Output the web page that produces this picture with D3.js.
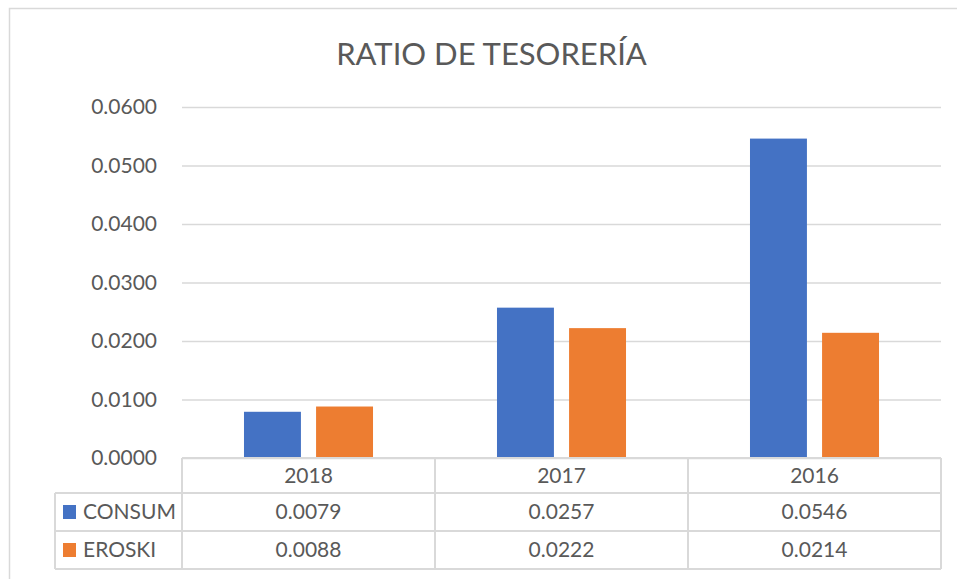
<!DOCTYPE html>
<html>
<head>
<meta charset="utf-8">
<script src="https://cdnjs.cloudflare.com/ajax/libs/d3/7.8.5/d3.min.js"></script>
<style>
  body { margin: 0; background: #fff; }
  text { font-family: Lato, "Open Sans", sans-serif; fill: #595959; }
</style>
</head>
<body>
<svg id="chart"></svg>
<script>
// data
var years = ["2018", "2017", "2016"];
var seriesNames = ["CONSUM", "EROSKI"];
var consum = [0.0079, 0.0257, 0.0546];
var eroski = [0.0088, 0.0222, 0.0214];
var yTicks = [0, 0.01, 0.02, 0.03, 0.04, 0.05, 0.06];
var colors = ["#4472c4", "#ed7d31"];

var values = [consum, eroski];

var W = 957, H = 579;
var svg = d3.select("#chart").attr("width", W).attr("height", H);

// outer frame
svg.append("path")
  .attr("d", "M9.5," + H + " L9.5,8.5 L" + W + ",8.5")
  .attr("fill", "none")
  .attr("stroke", "#d9d9d9")
  .attr("stroke-width", 1.5);

var plotLeft = 182, plotRight = 941, plotTop = 107, plotBottom = 458;
var rowH = [35, 38, 38];
var legendLeft = 55;

var x0 = d3.scaleBand()
  .domain(years)
  .range([plotLeft, plotRight])
  .paddingInner(0.49)
  .paddingOuter(0.245);

var x1 = d3.scaleBand()
  .domain(seriesNames)
  .range([0, x0.bandwidth()])
  .paddingInner(0.21);

var y = d3.scaleLinear()
  .domain([0, 0.06])
  .range([plotBottom, plotTop]);

// title
svg.append("text")
  .attr("x", (plotLeft + plotRight) / 2 - 70)
  .attr("y", 65)
  .attr("text-anchor", "middle")
  .style("font-size", "31px")
  .text("RATIO DE TESORERÍA");

// gridlines + y labels
var yAxis = d3.axisLeft(y)
  .tickValues(yTicks)
  .tickSize(-(plotRight - plotLeft))
  .tickFormat(d3.format(".4f"))
  .tickPadding(25);

var gy = svg.append("g")
  .attr("transform", "translate(" + plotLeft + ",0)")
  .call(yAxis);
gy.select(".domain").remove();
gy.selectAll(".tick line").attr("stroke", "#d9d9d9").attr("stroke-width", 1.5);
gy.selectAll(".tick text")
  .style("font-size", "21px")
  .attr("fill", "#595959")
  .attr("font-family", "Lato");

// bars
var groups = svg.selectAll(".year")
  .data(years)
  .enter()
  .append("g")
  .attr("class", "year")
  .attr("transform", d => "translate(" + x0(d) + ",0)");

groups.selectAll("rect")
  .data((d, i) => seriesNames.map((s, j) => ({ s: s, v: values[j][i], c: colors[j] })))
  .enter()
  .append("rect")
  .attr("x", d => x1(d.s))
  .attr("width", x1.bandwidth())
  .attr("y", d => y(d.v))
  .attr("height", d => y(0) - y(d.v))
  .attr("fill", d => d.c);

// data table
var table = svg.append("g").attr("class", "table");
var rowTop = [plotBottom, plotBottom + rowH[0], plotBottom + rowH[0] + rowH[1]];
var tableBottom = rowTop[2] + rowH[2];
var lineStyle = l => l.attr("stroke", "#d9d9d9").attr("stroke-width", 2);

// horizontal lines
table.append("line").attr("x1", plotLeft).attr("x2", plotRight).attr("y1", rowTop[0]).attr("y2", rowTop[0]).call(lineStyle);
[rowTop[1], rowTop[2], tableBottom].forEach(function(yy) {
  table.append("line").attr("x1", legendLeft).attr("x2", plotRight).attr("y1", yy).attr("y2", yy).call(lineStyle);
});
// vertical lines
var colEdges = [plotLeft].concat(years.map(d => x0(d) - x0.step() * x0.paddingInner() / 2 + x0.step()));
colEdges.forEach(function(xx) {
  table.append("line").attr("x1", xx).attr("x2", xx).attr("y1", rowTop[0]).attr("y2", tableBottom).call(lineStyle);
});
table.append("line").attr("x1", legendLeft).attr("x2", legendLeft).attr("y1", rowTop[1]).attr("y2", tableBottom).call(lineStyle);

// category labels
years.forEach(function(yr) {
  table.append("text")
    .attr("x", x0(yr) + x0.bandwidth() / 2)
    .attr("y", rowTop[0] + rowH[0] / 2)
    .attr("dy", "0.35em")
    .attr("text-anchor", "middle")
    .style("font-size", "21px")
    .text(yr);
});

// series rows
seriesNames.forEach(function(s, j) {
  var cy = rowTop[j + 1] + rowH[j + 1] / 2;
  table.append("rect")
    .attr("x", 63).attr("y", cy - 7)
    .attr("width", 13).attr("height", 14)
    .attr("fill", colors[j]);
  table.append("text")
    .attr("x", 83).attr("y", cy)
    .attr("dy", "0.35em")
    .style("font-size", "21px")
    .text(s);
  years.forEach(function(yr, i) {
    table.append("text")
      .attr("x", x0(yr) + x0.bandwidth() / 2)
      .attr("y", cy)
      .attr("dy", "0.35em")
      .attr("text-anchor", "middle")
      .style("font-size", "21px")
      .text(d3.format(".4f")(values[j][i]));
  });
});
</script>
</body>
</html>
